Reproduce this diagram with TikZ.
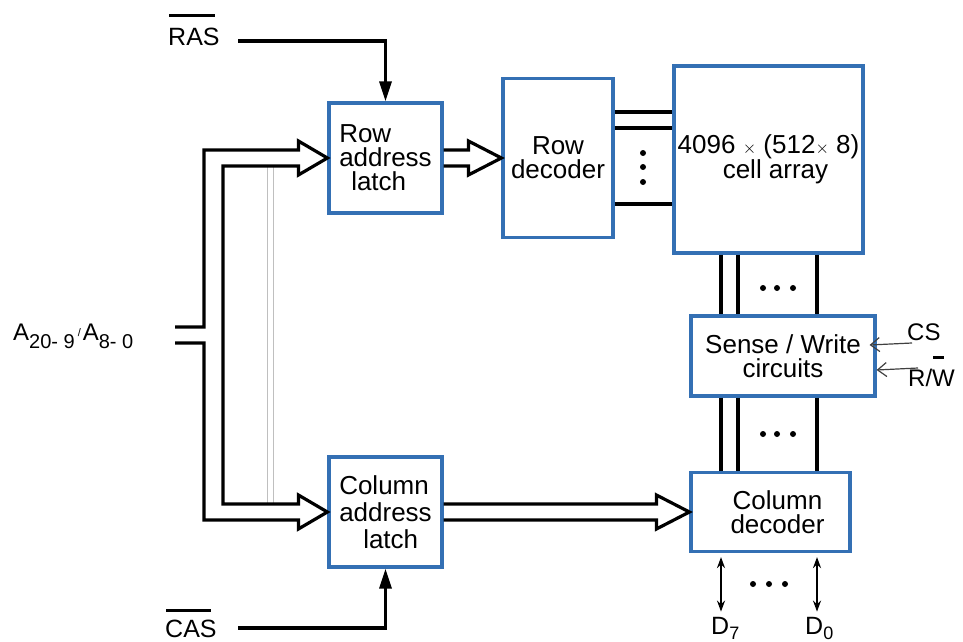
\documentclass[tikz,border=0pt]{standalone}
\usepackage{fontspec}
\setmainfont{Liberation Sans}
\usetikzlibrary{calc,arrows.meta}
\definecolor{boxblue}{RGB}{52,112,180}
\begin{document}
\begin{tikzpicture}[x=1pt,y=-1pt,
  blk/.style={draw=boxblue,line width=3.2pt,fill=white,inner sep=0pt,font=\fontsize{26}{24}\selectfont},
  lbl/.style={inner sep=0pt,font=\fontsize{25}{25}\selectfont},
  bus/.style={draw=black,line width=3.2pt,line join=miter},
  sig/.style={draw=black,line width=3.2pt},
  thinsig/.style={draw=black!75,line width=1.2pt,-{Straight Barb[length=9pt,width=14pt]}},
  bar/.style={draw=black,line width=2.4pt},
  dot/.style={fill=black,circle,inner sep=0pt,minimum size=6pt}]
\useasboundingbox (0,0) rectangle (963,642);

% boxes
\node[blk,minimum width=113pt,minimum height=110pt,align=left] (rl) at (385.5,158) {Row\\address\\\hspace*{12pt}latch};
\node[blk,minimum width=110pt,minimum height=159pt,align=center] (rd) at (558,158) {Row\\decoder};
\node[blk,minimum width=189pt,minimum height=187pt,align=center] (ca) at (768.5,159.5) {4096 {\fontsize{18}{18}\selectfont$\times$} (512{\fontsize{18}{18}\selectfont$\times$} 8)\\\hspace*{14pt}cell array};
\node[blk,minimum width=184pt,minimum height=80pt,align=center] (sw) at (783,356) {Sense / Write\\circuits};
\node[blk,minimum width=159pt,minimum height=79pt,align=center] (cd) at (770.5,512) {\hspace*{14pt}Column\\\hspace*{14pt}decoder};
\node[blk,minimum width=113pt,minimum height=110pt,align=left,font=\fontsize{26}{27}\selectfont] (cl) at (385.5,512) {Column\\address\\\hspace*{24pt}latch};

% labels
\node[lbl,anchor=base west] (ras) at (168,46) {RAS};
\node[lbl,anchor=base west] (cas) at (165,637) {CAS};
\node[lbl,anchor=base west,font=\fontsize{24}{24}\selectfont] (alab) at (13,340) {A\raisebox{-8pt}{\fontsize{20}{20}\selectfont 20- 9}\hspace{3pt}\raisebox{4pt}{\fontsize{11}{11}\selectfont /}\hspace{2pt}A\raisebox{-8pt}{\fontsize{20}{20}\selectfont 8- 0}};
\node[lbl,anchor=base west,font=\fontsize{24}{24}\selectfont] (cs) at (907,340) {CS};
\node[lbl,anchor=base west,font=\fontsize{24}{24}\selectfont] (rw) at (908,386) {R/W};
\node[lbl,anchor=base west,font=\fontsize{25}{25}\selectfont] (d7) at (711,634) {D\raisebox{-5pt}{\fontsize{18}{18}\selectfont 7}};
\node[lbl,anchor=base west,font=\fontsize{25}{25}\selectfont] (d0) at (805,634) {D\raisebox{-5pt}{\fontsize{18}{18}\selectfont 0}};

% overbars
\draw[bar] ($(ras.north west)+(1,-13)$) -- ($(ras.north east)+(-5,-13)$);
\draw[bar] ($(cas.north west)+(1,-9)$) -- ($(cas.north east)+(-6,-9)$);
\draw[bar] ($(rw.north east)+(-22,-11)$) -- ($(rw.north east)+(-11,-11)$);

% coordinates
\coordinate (ain1) at (175,327);
\coordinate (ain2) at (175,343);
\coordinate (rasend) at (238,41);
\coordinate (casend) at (238,628);
\coordinate (c1) at (721,0);
\coordinate (c2) at (738,0);
\coordinate (c3) at (817,0);
\coordinate (csend) at (912,343);
\coordinate (rwend) at (918,368);

% gray guide lines
\draw[black!25,line width=1pt] (267,166) -- (267,504);
\draw[black!25,line width=1pt] (273,166) -- (273,504);

% address bus
\draw[bus] (ain1) -- (204,327) -- (204,150) -- ($(rl.west)+(-29,-8)$) -- ($(rl.west)+(-29,-17)$) -- (rl.west)
  -- ($(rl.west)+(-29,17)$) -- ($(rl.west)+(-29,8)$) -- (223,166) -- (223,504) -- ($(cl.west)+(-29,-8)$)
  -- ($(cl.west)+(-29,-17)$) -- (cl.west) -- ($(cl.west)+(-29,17)$) -- ($(cl.west)+(-29,8)$) -- (204,520) -- (204,343) -- (ain2);

% row latch -> row decoder
\draw[bus] ($(rl.east)+(0,-8)$) -- ($(rd.west)+(-33,-8)$) -- ($(rd.west)+(-33,-17)$) -- (rd.west)
  -- ($(rd.west)+(-33,17)$) -- ($(rd.west)+(-33,8)$) -- ($(rl.east)+(0,8)$);

% column latch -> column decoder
\draw[bus] ($(cl.east)+(0,-8)$) -- ($(cd.west)+(-33,-8)$) -- ($(cd.west)+(-33,-17)$) -- (cd.west)
  -- ($(cd.west)+(-33,17)$) -- ($(cd.west)+(-33,8)$) -- ($(cl.east)+(0,8)$);

% RAS / CAS
\draw[sig,-{Triangle[length=20pt,width=12pt]}] (rasend) -| (rl.north);
\draw[sig,-{Triangle[length=20pt,width=12pt]}] (casend) -| (cl.south);

% row decoder -> cell array word lines
\draw[sig] ($(rd.east)+(0,-46)$) -- ($(ca.west)+(0,-47.5)$);
\draw[sig] ($(rd.east)+(0,-30)$) -- ($(ca.west)+(0,-31.5)$);
\draw[sig] ($(rd.east)+(0,46)$) -- ($(ca.west)+(0,44.5)$);
\node[dot] (vd1) at (643,153) {};
\node[dot] (vd2) at (643,167) {};
\node[dot] (vd3) at (643,182) {};

% bit lines
\foreach \c in {c1,c2,c3} {
  \draw[sig] (ca.south -| \c) -- (sw.north -| \c);
  \draw[sig] (sw.south -| \c) -- (cd.north -| \c);
}
\node[dot] (hd1) at (763,288) {};
\node[dot] (hd2) at (777,288) {};
\node[dot] (hd3) at (793,288) {};
\node[dot] (hd4) at (763,434) {};
\node[dot] (hd5) at (777,434) {};
\node[dot] (hd6) at (793,434) {};

% data lines
\draw[sig,line width=2.8pt,{Stealth[length=11pt,width=8pt]}-{Stealth[length=11pt,width=8pt]}] ($(cd.south -| c1)+(0,4)$) -- ($(d7.north -| c1)+(0,-5)$);
\draw[sig,line width=2.8pt,{Stealth[length=11pt,width=8pt]}-{Stealth[length=11pt,width=8pt]}] ($(cd.south -| c3)+(0,4)$) -- ($(d0.north -| c3)+(0,-5)$);
\node[dot] (bd1) at (753,584) {};
\node[dot] (bd2) at (769,584) {};
\node[dot] (bd3) at (785,584) {};

% CS and R/W control arrows
\draw[thinsig] (csend) -- ($(sw.east)+(-7,-11)$);
\draw[thinsig] (rwend) -- ($(sw.east)+(0,14)$);
\end{tikzpicture}
\end{document}
